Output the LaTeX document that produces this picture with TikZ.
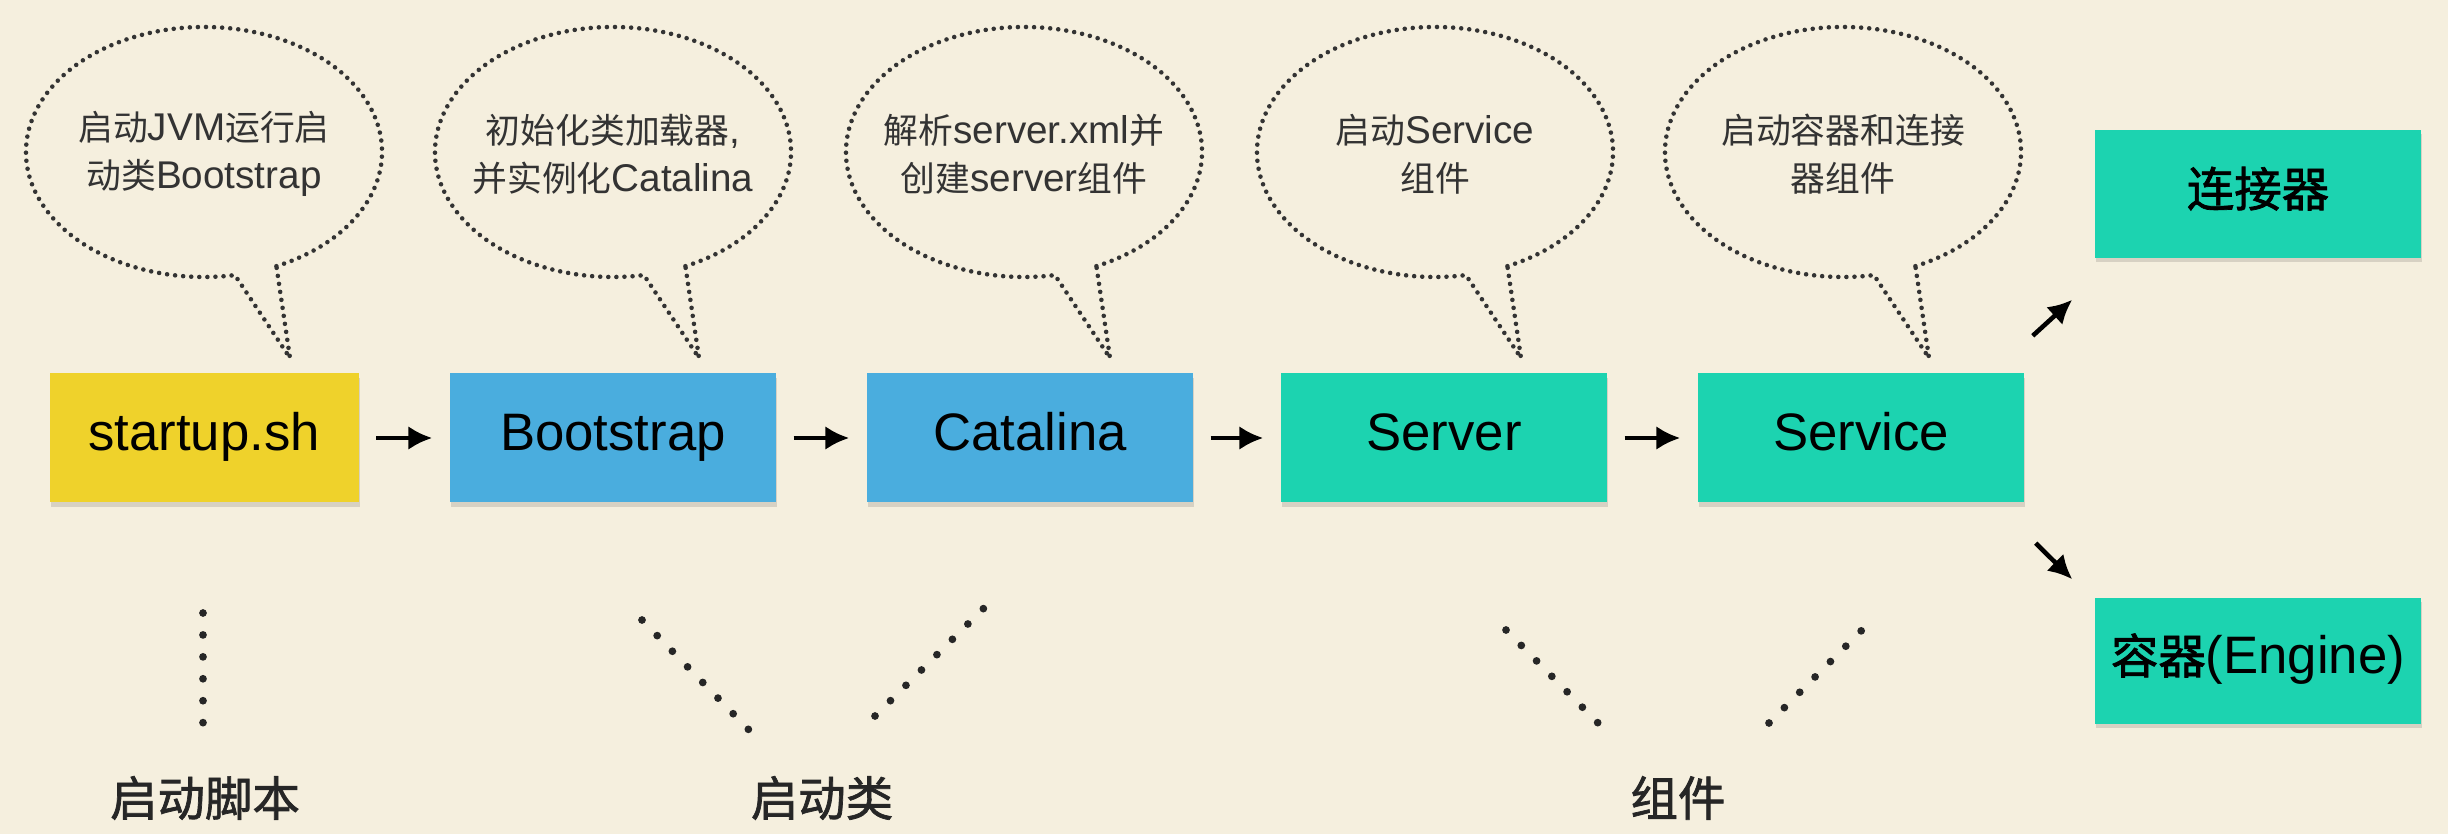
\documentclass[tikz,border=0pt]{standalone}
\usepackage{fontspec}
\setmainfont{Liberation Sans}
\newfontfamily\cjk{Noto Sans CJK SC}[Scale=0.9]
\newfontfamily\cjkm{Noto Sans CJK SC}[Scale=0.9, FakeBold=1.5]
\usetikzlibrary{arrows.meta,shadows}

\definecolor{bgcream}{HTML}{F5EFDE}
\definecolor{scriptyellow}{HTML}{EFD22B}
\definecolor{classblue}{HTML}{4AADDE}
\definecolor{compgreen}{HTML}{1CD3B0}
\definecolor{inkgray}{HTML}{333333}

\tikzset{
  box/.style={minimum width=3.26cm, minimum height=1.29cm, inner sep=0pt,
    text height=0.72em, text depth=0pt,
    font=\fontsize{15}{18}\selectfont,
    drop shadow={shadow xshift=0.3pt, shadow yshift=-1.2pt, opacity=0.12, fill=black}},
  arr/.style={line width=1.3pt, -{Latex[length=2.4mm,width=2.4mm]}, shorten <=0.17cm, shorten >=0.17cm},
  bubble/.style={draw=inkgray, line width=1.3pt, line cap=round, dash pattern=on 0pt off 2.3pt},
  bubbletext/.style={align=center, text=inkgray, font=\fontsize{11}{13.6}\selectfont},
  trail/.style={draw=black!85, line width=2.2pt, line cap=round},
  tag/.style={text=black!85, font=\cjkm\fontsize{15}{18}\selectfont}
}

\begin{document}
\begin{tikzpicture}
    \fill[bgcream] (0,0) rectangle (24.48,8.34);
    \useasboundingbox (0,0) rectangle (24.48,8.34);

    % main chain
    \node[box, fill=scriptyellow, minimum width=3.09cm] (startup) at (2.04,3.96) {startup.sh};
    \node[box, fill=classblue] (bootstrap) at (6.13,3.96) {Bootstrap};
    \node[box, fill=classblue] (catalina) at (10.30,3.96) {Catalina};
    \node[box, fill=compgreen] (server) at (14.44,3.96) {Server};
    \node[box, fill=compgreen] (service) at (18.61,3.96) {Service};
    \node[box, fill=compgreen, minimum height=1.28cm] (connector) at (22.58,6.40) {{\cjkm 连接器}};
    \node[box, fill=compgreen, minimum height=1.26cm] (engine) at (22.58,1.73) {{\cjkm 容器}(Engine)};

    \draw[arr] (startup) -- (bootstrap);
    \draw[arr] (bootstrap) -- (catalina);
    \draw[arr] (catalina) -- (server);
    \draw[arr] (server) -- (service);
    \draw[arr, shorten <=0pt, shorten >=0pt] ([shift={(0.08,0.37)}]service.north east) -- ([shift={(-0.22,-0.41)}]connector.south west);
    \draw[arr, shorten <=0pt, shorten >=0pt] ([shift={(0.11,-0.40)}]service.south east) -- ([shift={(-0.22,0.18)}]engine.north west);

    % speech bubbles
    \foreach \cx/\txt [count=\i] in {
        2.04/{{\cjk 启动}JVM{\cjk 运行启}\\{\cjk 动类}Bootstrap},
        6.13/{{\cjk 初始化类加载器},\\{\cjk 并实例化}Catalina},
        10.24/{{\cjk 解析}server.xml{\cjk 并}\\{\cjk 创建}server{\cjk 组件}},
        14.35/{{\cjk 启动}Service\\{\cjk 组件}},
        18.43/{{\cjk 启动容器和连接}\\{\cjk 器组件}}}
    {
        \draw[bubble] (\cx,6.82) ++(-66:1.78cm and 1.25cm)
            arc[start angle=-66, end angle=280, x radius=1.78cm, y radius=1.25cm]
            -- (\cx+0.86,4.76) -- cycle;
        \node[bubbletext] (note\i) at (\cx,6.80) {\txt};
    }

    % dotted guides
    \draw[trail, dash pattern=on 0pt off 6.24pt] (2.03,2.21) -- (2.03,1.11);
    \draw[trail, dash pattern=on 0pt off 6.2pt] (6.42,2.14) -- (7.49,1.04);
    \draw[trail, dash pattern=on 0pt off 6.2pt] (8.75,1.18) -- (9.84,2.26);
    \draw[trail, dash pattern=on 0pt off 6.18pt] (15.06,2.04) -- (15.98,1.11);
    \draw[trail, dash pattern=on 0pt off 6.18pt] (17.69,1.11) -- (18.62,2.04);

    \node[tag] (scriptlabel) at (2.05,0.36) {启动脚本};
    \node[tag] (classlabel) at (8.22,0.36) {启动类};
    \node[tag] (complabel) at (16.78,0.36) {组件};
\end{tikzpicture}
\end{document}
